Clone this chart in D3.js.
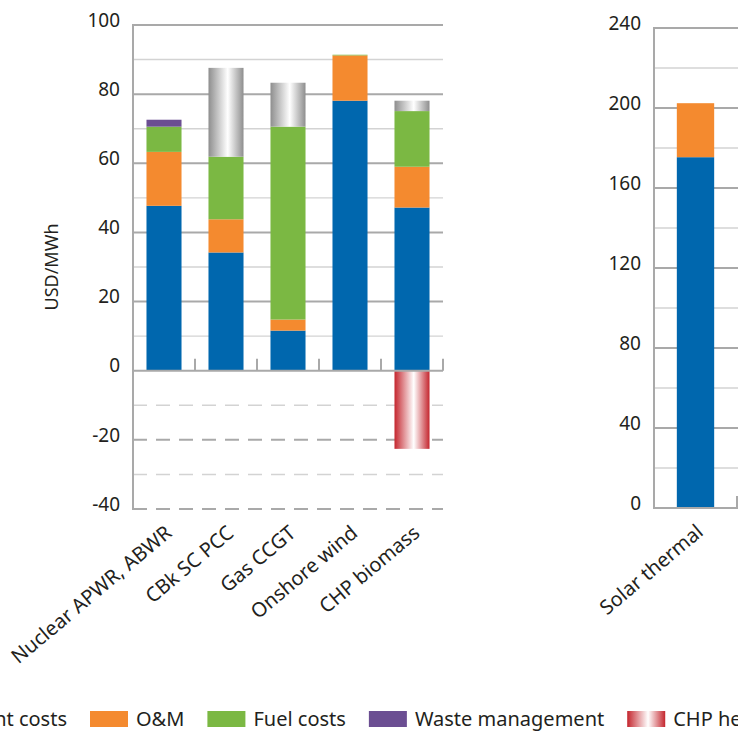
<!DOCTYPE html>
<html>
<head>
<meta charset="utf-8">
<script src="https://cdn.jsdelivr.net/npm/d3@7"></script>
<style>
  body { margin: 0; background: #fff; }
  svg { display: block; font-family: "Noto Sans", sans-serif; }
</style>
</head>
<body>
<script>
// data (USD/MWh)
var leftCats = ["Nuclear APWR, ABWR", "CBk SC PCC", "Gas CCGT", "Onshore wind", "CHP biomass"];
var leftInvestment = [47.7, 34.2, 11.6, 78.1, 47.2];
var leftOM = [15.6, 9.6, 3.2, 13.1, 11.8];
var leftFuel = [7.3, 18.1, 55.8, 0.2, 16.1];
var leftWaste = [2.0, 0, 0, 0, 0];
var leftCarbon = [0, 25.7, 12.7, 0, 3.0];
var leftHeatCredit = [0, 0, 0, 0, -22.6];

var rightCats = ["Solar thermal"];
var rightInvestment = [175.4];
var rightOM = [27.0];
var rightFuel = [0];
var rightWaste = [0];
var rightCarbon = [0];
var rightHeatCredit = [0];

var leftTicks = [-40, -20, 0, 20, 40, 60, 80, 100];
var rightTicks = [0, 40, 80, 120, 160, 200, 240];

var seriesKeys = ["investment", "om", "fuel", "waste", "carbon"];
var legendNames = ["Investment costs", "O&M", "Fuel costs", "Waste management", "CHP heat credit", "Carbon costs"];

var colors = {investment: "#0067ae", om: "#f48a2f", fuel: "#7bb843", waste: "#6b4e92",
              carbon: "url(#greyGrad)", heat: "url(#redGrad)"};

var textColor = "#231f20";
var majorGrid = "#a9a9a9", minorGrid = "#d3d3d3";

var svg = d3.select("body").append("svg")
    .attr("width", 738)
    .attr("height", 732);

// gradients for carbon costs and heat credit
var defs = svg.append("defs");
function addGrad(id, edge) {
    var gr = defs.append("linearGradient").attr("id", id)
        .attr("x1", "0%").attr("x2", "100%").attr("y1", "0%").attr("y2", "0%");
    gr.append("stop").attr("offset", "0%").attr("stop-color", edge);
    gr.append("stop").attr("offset", "55%").attr("stop-color", "#ffffff");
    gr.append("stop").attr("offset", "100%").attr("stop-color", edge);
}
addGrad("greyGrad", "#8e8e8e");
addGrad("redGrad", "#c4262e");

function buildRows(cats, inv, om, fuel, waste, carbon, heat) {
    return cats.map(function(c, i) {
        return {cat: c, investment: inv[i], om: om[i], fuel: fuel[i], waste: waste[i], carbon: carbon[i], heat: heat[i]};
    });
}

//---------one panel-----------//
function drawPanel(opt) {
    var rows = buildRows(opt.cats, opt.inv, opt.om, opt.fuel, opt.waste, opt.carbon, opt.heat);
    var x = d3.scaleBand().domain(opt.cats).range([opt.x0, opt.x1])
        .paddingInner(opt.pad).paddingOuter(opt.pad / 2);
    var y = d3.scaleLinear().domain(opt.domain).range([opt.yBottom, opt.yTop]);
    var g = svg.append("g");

    // gridlines, minor then major (dashed below zero)
    var minor = d3.range(opt.domain[0], opt.domain[1] + 0.1, opt.step / 2).filter(function(v) { return v % opt.step !== 0; });
    g.selectAll(".minor").data(minor).enter().append("line")
        .attr("x1", opt.x0).attr("x2", opt.gridEnd)
        .attr("y1", function(d) { return y(d); }).attr("y2", function(d) { return y(d); })
        .attr("stroke", minorGrid).attr("stroke-width", 1.4)
        .attr("stroke-dasharray", function(d) { return d < 0 ? "14,9" : null; });
    g.selectAll(".major").data(opt.ticks.filter(function(d) { return d !== 0; })).enter().append("line")
        .attr("x1", opt.x0).attr("x2", opt.gridEnd)
        .attr("y1", function(d) { return y(d); }).attr("y2", function(d) { return y(d); })
        .attr("stroke", majorGrid).attr("stroke-width", 2)
        .attr("stroke-dasharray", function(d) { return d < 0 ? "14,9" : null; });

    // stacked bars
    var stack = d3.stack().keys(seriesKeys);
    var layers = stack(rows);
    g.selectAll(".layer").data(layers).enter().append("g")
        .attr("fill", function(d) { return colors[d.key]; })
        .selectAll("rect").data(function(d) { return d; }).enter().append("rect")
        .attr("x", function(d) { return x(d.data.cat); })
        .attr("width", x.bandwidth())
        .attr("y", function(d) { return y(d[1]); })
        .attr("height", function(d) { return Math.max(0, y(d[0]) - y(d[1])); });

    // negative heat credit
    g.selectAll(".heat").data(rows.filter(function(d) { return d.heat < 0; })).enter().append("rect")
        .attr("x", function(d) { return x(d.cat); })
        .attr("width", x.bandwidth())
        .attr("y", y(0))
        .attr("height", function(d) { return y(d.heat) - y(0); })
        .attr("fill", colors.heat);

    // zero line with category ticks
    var bounds = opt.cats.map(function(c) { return x(c) + x.bandwidth() / 2 + x.step() / 2; });
    g.append("line").attr("x1", opt.x0).attr("x2", opt.gridEnd)
        .attr("y1", y(0)).attr("y2", y(0))
        .attr("stroke", majorGrid).attr("stroke-width", 2);
    g.selectAll(".ctick").data(bounds).enter().append("line")
        .attr("x1", function(d) { return d; }).attr("x2", function(d) { return d; })
        .attr("y1", y(0)).attr("y2", y(0) - 12)
        .attr("stroke", majorGrid).attr("stroke-width", 2);

    // y axis line
    g.append("line").attr("x1", opt.x0).attr("x2", opt.x0)
        .attr("y1", opt.yTop - 1).attr("y2", opt.yBottom + 1)
        .attr("stroke", majorGrid).attr("stroke-width", 2);

    // tick labels sit a little above their lines
    g.selectAll(".ylab").data(opt.ticks).enter().append("text")
        .attr("x", opt.x0 - 13)
        .attr("y", function(d) { return y(d) - 5; })
        .attr("dy", "0.35em")
        .attr("text-anchor", "end")
        .attr("fill", textColor)
        .style("font-size", "19px")
        .text(function(d) { return d; });

    // category labels
    g.selectAll(".xlab").data(opt.cats).enter().append("text")
        .attr("transform", function(d) {
            return "translate(" + (x(d) + x.bandwidth() / 2 + 9) + "," + (opt.yBottom + 26) + ") rotate(-40)";
        })
        .attr("text-anchor", "end")
        .attr("fill", textColor)
        .style("font-size", "20px")
        .text(function(d) { return d; });
}

drawPanel({cats: leftCats, inv: leftInvestment, om: leftOM, fuel: leftFuel, waste: leftWaste,
    carbon: leftCarbon, heat: leftHeatCredit, ticks: leftTicks, step: 20, domain: [-40, 100],
    x0: 133, x1: 443, gridEnd: 443, yTop: 25, yBottom: 509, pad: 0.435});

drawPanel({cats: rightCats, inv: rightInvestment, om: rightOM, fuel: rightFuel, waste: rightWaste,
    carbon: rightCarbon, heat: rightHeatCredit, ticks: rightTicks, step: 40, domain: [0, 240],
    x0: 654, x1: 737, gridEnd: 900, yTop: 28, yBottom: 508, pad: 0.55});

// y axis title
svg.append("text")
    .attr("transform", "translate(58,267) rotate(-90)")
    .attr("text-anchor", "middle")
    .attr("fill", textColor)
    .style("font-size", "18px")
    .text("USD/MWh");

//---------legend-----------//
var legendFills = [colors.investment, colors.om, colors.fuel, colors.waste, colors.heat, colors.carbon];
var legend = svg.append("g").attr("transform", "translate(0,719)");
var items = legend.selectAll(".item").data(legendNames).enter().append("g");
items.append("rect").attr("width", 38).attr("height", 16).attr("y", -8)
    .attr("fill", function(d, i) { return legendFills[i]; });
items.append("text").attr("x", 46).attr("dy", "0.35em")
    .attr("fill", textColor).style("font-size", "20px")
    .text(function(d) { return d; });
// lay out items left to right, so that "O&M" swatch sits at x=90
var widths = [];
items.select("text").each(function() { widths.push(this.getComputedTextLength()); });
var pos = 90 - (46 + widths[0] + 23);
items.attr("transform", function(d, i) {
    var p = pos;
    pos += 46 + widths[i] + 23;
    return "translate(" + p + ",0)";
});
</script>
</body>
</html>
